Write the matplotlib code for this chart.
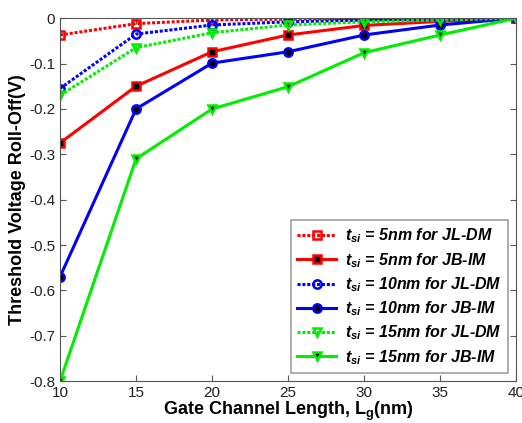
import matplotlib
matplotlib.use("Agg")
import matplotlib.pyplot as plt

plt.rcParams['font.family'] = ['Liberation Sans', 'DejaVu Sans']
plt.rcParams['mathtext.fontset'] = 'custom'
plt.rcParams['mathtext.it'] = 'Liberation Sans:italic:bold'
plt.rcParams['mathtext.rm'] = 'Liberation Sans:bold'

lg = [10, 15, 20, 25, 30, 35, 40]
t5_jl = [-0.037, -0.012, -0.004, -0.002, -0.001, -0.0005, 0]
t5_jb = [-0.275, -0.15, -0.074, -0.037, -0.016, -0.007, 0]
t10_jl = [-0.155, -0.035, -0.015, -0.008, -0.004, -0.002, 0]
t10_jb = [-0.57, -0.2, -0.099, -0.074, -0.037, -0.015, 0]
t15_jl = [-0.17, -0.065, -0.032, -0.015, -0.008, -0.004, 0]
t15_jb = [-0.8, -0.31, -0.2, -0.151, -0.076, -0.037, 0]
labels = [r"$t_{si}$ = 5nm for JL-DM", r"$t_{si}$ = 5nm for JB-IM",
          r"$t_{si}$ = 10nm for JL-DM", r"$t_{si}$ = 10nm for JB-IM",
          r"$t_{si}$ = 15nm for JL-DM", r"$t_{si}$ = 15nm for JB-IM"]
xticks = [10, 15, 20, 25, 30, 35, 40]
yticks = [0, -0.1, -0.2, -0.3, -0.4, -0.5, -0.6, -0.7, -0.8]
yticklabels = ["0", "-0.1", "-0.2", "-0.3", "-0.4", "-0.5", "-0.6", "-0.7", "-0.8"]

fig = plt.figure(figsize=(5.22, 4.23), dpi=100)
ax = fig.add_axes([0.115, 0.099, 0.874, 0.858])

series = [
    (t5_jl, 'red', 's', (0, (1, 0.6)), 'none'),
    (t5_jb, 'red', 's', '-', 'black'),
    (t10_jl, 'blue', 'o', (0, (1, 0.6)), 'none'),
    (t10_jb, 'blue', 'o', '-', 'black'),
    (t15_jl, '#00ee00', 'v', (0, (1, 0.6)), 'none'),
    (t15_jb, '#00ee00', 'v', '-', 'black'),
]
for (ys, c, m, ls, mfc), lab in zip(series, labels):
    ax.plot(lg, ys, color=c, marker=m, linestyle=ls, linewidth=2.2,
            markersize=6, markerfacecolor=mfc, markeredgecolor=c,
            markeredgewidth=1.8, label=lab)

ax.set_xlim(10, 40)
ax.set_ylim(-0.8, 0)
ax.set_xticks(xticks)
ax.set_yticks(yticks)
ax.set_yticklabels(yticklabels)
ax.tick_params(direction='in', labelsize=11, top=True, right=True, length=4,
               colors='#555555')
ax.tick_params(labelcolor='#222222')
for s in ax.spines.values():
    s.set_color('#555555')
ax.set_xlabel(r"Gate Channel Length, L$_{\mathregular{g}}$(nm)", fontsize=13, fontweight='bold', labelpad=0)
ax.set_ylabel("Threshold Voltage Roll-Off(V)", fontsize=13, fontweight='bold', labelpad=2)

leg = ax.legend(loc='lower right', frameon=True, fancybox=False,
                edgecolor='#888888', handlelength=2.4, borderpad=0.4,
                labelspacing=0.35, handletextpad=0.6,
                prop={'weight': 'bold', 'style': 'italic', 'size': 11.5})
leg.get_frame().set_linewidth(1.2)

fig.savefig("out.png", dpi=100)
